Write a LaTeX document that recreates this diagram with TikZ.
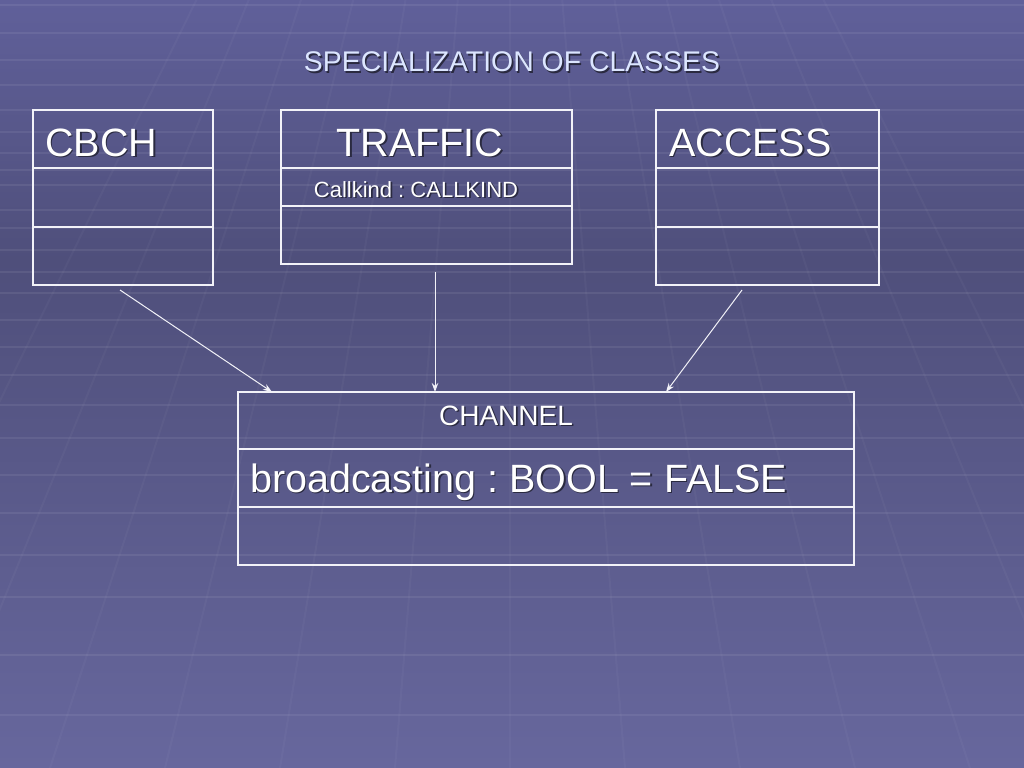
\documentclass[tikz,border=0pt]{standalone}
\usepackage{fontspec}
\setmainfont{Liberation Sans}
\frenchspacing
\usetikzlibrary{arrows.meta,calc}
\definecolor{bgtop}{HTML}{60609A}
\definecolor{bgmid}{HTML}{4F4F7B}
\definecolor{bgbot}{HTML}{67679D}
\definecolor{boxline}{HTML}{F2F2F8}
\definecolor{titlecol}{HTML}{DCE6FF}
\definecolor{shadowcol}{HTML}{2A2A40}
\newcommand\shd[1]{\makebox[0pt][l]{\hspace{1.6bp}\raisebox{-1.6bp}{\color{shadowcol}#1}}#1}
\tikzset{
  classbox/.style={draw=boxline, line width=2.6bp, rectangle, inner sep=0pt},
  divider/.style={draw=boxline, line width=1.6bp},
  gen/.style={draw=boxline, line width=1bp, -{Stealth[length=9bp,width=6.5bp]}},
  lbl/.style={text=white, inner sep=0pt, anchor=base west},
  gridh/.style={draw=white, opacity=0.07, line width=1.2bp},
  gridv/.style={draw=white, opacity=0.03, line width=2bp}
}
\begin{document}
\begin{tikzpicture}[x=1bp,y=-1bp]
\useasboundingbox (0,0) rectangle (1024,768);
% background
\shade[top color=bgtop, bottom color=bgmid] (0,0) rectangle (1024,260);
\shade[top color=bgmid, bottom color=bgbot] (0,260) rectangle (1024,768);
\foreach \yy in {5,33,60,85,110,132,153,170,185,210,228,250,272,293,320,347,375,405,438,475,513,555,597,655,715}
  \draw[gridh] (0,\yy) -- (1024,\yy);
\foreach \k in {-6,...,6}
  \draw[gridv] (510,-640) -- ($(510,-640)!1.2!(510+\k*115,768)$);
% title
\node[lbl, anchor=base, text=titlecol, font=\fontsize{28.4bp}{30bp}\selectfont] (title) at (512,72) {\shd{SPECIALIZATION OF CLASSES}};
% CBCH
\node[classbox, minimum width=180bp, minimum height=175bp] (cbch) at (123,197.5) {};
\draw[divider] (33,168) -- (213,168);
\draw[divider] (33,227) -- (213,227);
\node[lbl, font=\fontsize{39.5bp}{42bp}\selectfont] (cbchname) at (45,156) {\shd{CBCH}};
% TRAFFIC
\node[classbox, minimum width=291bp, minimum height=154bp] (traffic) at (426.5,187) {};
\draw[divider] (281,168) -- (572,168);
\draw[divider] (281,206) -- (572,206);
\node[lbl, anchor=base, font=\fontsize{39.5bp}{42bp}\selectfont] (trafficname) at (420,156) {\shd{TRAFFIC}};
\node[lbl, anchor=base, font=\fontsize{22bp}{24bp}\selectfont] (callkind) at (416,197) {\shd{Callkind : CALLKIND}};
% ACCESS
\node[classbox, minimum width=223bp, minimum height=175bp] (access) at (767.5,197.5) {};
\draw[divider] (656,168) -- (879,168);
\draw[divider] (656,227) -- (879,227);
\node[lbl, font=\fontsize{39.5bp}{42bp}\selectfont] (accessname) at (669,156) {\shd{ACCESS}};
% CHANNEL
\node[classbox, minimum width=616bp, minimum height=173bp] (channel) at (546,478.5) {};
\draw[divider] (238,449) -- (854,449);
\draw[divider] (238,507) -- (854,507);
\node[lbl, anchor=base, font=\fontsize{28bp}{30bp}\selectfont] (channelname) at (506,425) {\shd{CHANNEL}};
\node[lbl, font=\fontsize{39.5bp}{42bp}\selectfont] (bcast) at (250,492) {\shd{broadcasting : BOOL = FALSE}};
% connectors
\coordinate (s1) at (120,290);
\coordinate (e1) at (272,392);
\coordinate (s2) at (435,272);
\coordinate (e2) at (435,392);
\coordinate (s3) at (742,290);
\coordinate (e3) at (666,392);
\draw[gen] (s1) -- (e1);
\draw[gen] (s2) -- (e2);
\draw[gen] (s3) -- (e3);
\end{tikzpicture}
\end{document}
